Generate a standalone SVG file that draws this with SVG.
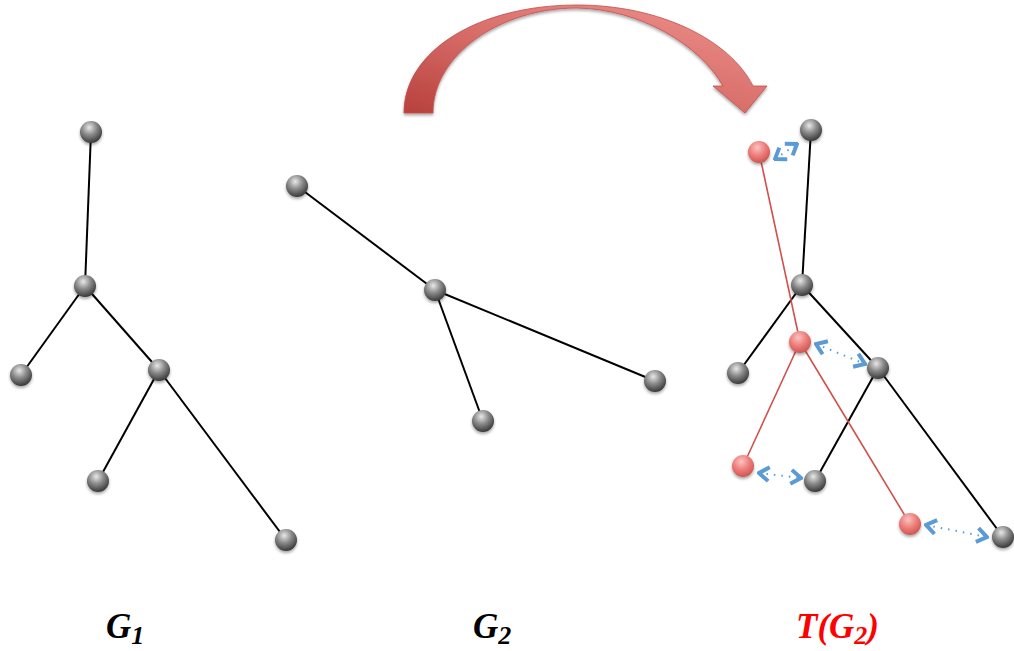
<svg xmlns="http://www.w3.org/2000/svg" width="1014" height="651" viewBox="0 0 1014 651">
<defs>
<radialGradient id="gg" cx="0.42" cy="0.3" r="0.75">
<stop offset="0" stop-color="#e8e8e8"/>
<stop offset="0.45" stop-color="#8a8a8a"/>
<stop offset="1" stop-color="#2e2e2e"/>
</radialGradient>
<radialGradient id="rg" cx="0.42" cy="0.3" r="0.75">
<stop offset="0" stop-color="#fbc4c2"/>
<stop offset="0.5" stop-color="#ee7d7a"/>
<stop offset="1" stop-color="#c9504c"/>
</radialGradient>
<linearGradient id="ag" x1="0" y1="1" x2="1" y2="0">
<stop offset="0" stop-color="#b8403c"/>
<stop offset="0.5" stop-color="#d9706c"/>
<stop offset="1" stop-color="#f0938e"/>
</linearGradient>
<marker id="chev" viewBox="-14 -10 16 20" markerWidth="16" markerHeight="20" refX="0" refY="0" orient="auto-start-reverse" markerUnits="userSpaceOnUse">
<path d="M-10,-7 L0,0 L-10,7" fill="none" stroke="#5b9bd5" stroke-width="4" stroke-linejoin="miter"/>
</marker>
<filter id="sh" x="-50%" y="-50%" width="200%" height="200%">
<feGaussianBlur in="SourceAlpha" stdDeviation="1.5"/>
<feOffset dx="0" dy="2" result="b"/>
<feComponentTransfer><feFuncA type="linear" slope="0.35"/></feComponentTransfer>
<feMerge><feMergeNode/><feMergeNode in="SourceGraphic"/></feMerge>
</filter>
</defs>
<style>
.e{stroke:#000;stroke-width:2;fill:none}
.re{stroke:#d0504c;stroke-width:1.6;fill:none}
.g{fill:url(#gg);filter:url(#sh)}
.r{fill:url(#rg);filter:url(#sh)}
.b{stroke:#5b9bd5;stroke-width:2;stroke-dasharray:1.5 6;fill:none;marker-start:url(#chev);marker-end:url(#chev)}
.lbl{font-family:"Liberation Serif",serif;font-weight:bold;font-style:italic;font-size:35px}
.sub{font-size:26px}
</style>
<rect width="1014" height="651" fill="#fff"/>
<g id="bigArrow">
<path d="M404,113 C404,50 480,5 577,5 C660,5 730,40 753,86 L767,86 L745,113 L713,86 L723,86 C700,45 640,9 577,8 C500,8 433,55 433,113 Z" fill="url(#ag)" stroke="#c0504d" stroke-width="0.8" filter="url(#sh)"/>
</g>
<g id="connectors">
<line class="e" x1="91" y1="132" x2="85" y2="286"/>
<line class="e" x1="85" y1="286" x2="21" y2="375"/>
<line class="e" x1="85" y1="286" x2="159" y2="370"/>
<line class="e" x1="159" y1="370" x2="98" y2="481"/>
<line class="e" x1="159" y1="370" x2="286" y2="540"/>
<line class="e" x1="297" y1="186" x2="435" y2="290"/>
<line class="e" x1="435" y1="290" x2="655" y2="381"/>
<line class="e" x1="435" y1="290" x2="483" y2="421"/>
<line class="e" x1="811" y1="130" x2="802" y2="285"/>
<line class="e" x1="802" y1="285" x2="738" y2="373"/>
<line class="e" x1="802" y1="285" x2="878" y2="368"/>
<line class="e" x1="878" y1="368" x2="815" y2="481"/>
<line class="e" x1="878" y1="368" x2="1003" y2="537"/>
<line class="re" x1="759" y1="152" x2="800" y2="342"/>
<line class="re" x1="800" y1="342" x2="743" y2="466"/>
<line class="re" x1="800" y1="342" x2="910" y2="524"/>
<line class="b" x1="775" y1="159" x2="797" y2="144"/>
<line class="b" x1="816" y1="344" x2="865" y2="364"/>
<line class="b" x1="759" y1="473" x2="801" y2="478"/>
<line class="b" x1="926" y1="525" x2="987" y2="537"/>
</g>
<g id="G1">
<circle id="g1a" class="g" cx="91" cy="132" r="11"/>
<circle id="g1b" class="g" cx="85" cy="286" r="11"/>
<circle id="g1c" class="g" cx="21" cy="375" r="11"/>
<circle id="g1d" class="g" cx="159" cy="370" r="11"/>
<circle id="g1e" class="g" cx="98" cy="481" r="11"/>
<circle id="g1f" class="g" cx="286" cy="540" r="11"/>
</g>
<g id="G2">
<circle id="g2a" class="g" cx="297" cy="186" r="11"/>
<circle id="g2b" class="g" cx="435" cy="290" r="11"/>
<circle id="g2c" class="g" cx="655" cy="381" r="11"/>
<circle id="g2d" class="g" cx="483" cy="421" r="11"/>
</g>
<g id="TG2">
<circle id="t1a" class="g" cx="811" cy="130" r="11"/>
<circle id="t1b" class="g" cx="802" cy="285" r="11"/>
<circle id="t1c" class="g" cx="738" cy="373" r="11"/>
<circle id="t1d" class="g" cx="878" cy="368" r="11"/>
<circle id="t1e" class="g" cx="815" cy="481" r="11"/>
<circle id="t1f" class="g" cx="1003" cy="537" r="11"/>
<circle id="t2a" class="r" cx="759" cy="152" r="11"/>
<circle id="t2b" class="r" cx="800" cy="342" r="11"/>
<circle id="t2c" class="r" cx="743" cy="466" r="11"/>
<circle id="t2d" class="r" cx="910" cy="524" r="11"/>
</g>
<g id="labels">
<text class="lbl" x="106" y="638">G<tspan class="sub" dy="6">1</tspan></text>
<text class="lbl" x="473" y="638">G<tspan class="sub" dy="6">2</tspan></text>
<text class="lbl" x="796" y="638" fill="#ff0000">T(G<tspan class="sub" dy="6">2</tspan><tspan dy="-6">)</tspan></text>
</g>
</svg>
